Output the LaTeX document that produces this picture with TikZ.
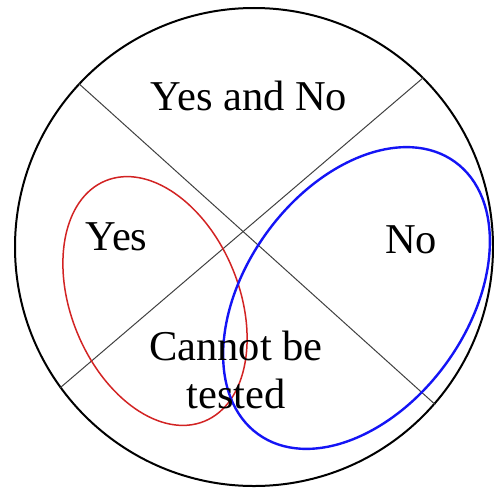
\documentclass[tikz,border=0pt]{standalone}
\usepackage{fontspec}
\setmainfont{Liberation Serif}
\usepackage{tikz}
\usepackage{xcolor}
\usetikzlibrary{positioning,shapes.geometric}
\definecolor{yesred}{RGB}{210,35,35}
\definecolor{noblue}{RGB}{20,20,245}

\begin{document}
\begin{tikzpicture}[x=1pt,y=-1pt,every node/.style={font=\fontsize{42.5}{48}\selectfont},
  loop/.style={ellipse,draw,inner sep=0pt}]
\useasboundingbox (0,0) rectangle (494,487);
\node[circle,draw,line width=2pt,inner sep=0pt,minimum size=478pt] (disc) at (254,247) {};

\draw[black!75,line width=1pt] (disc.137) -- (disc.-41);
\draw[black!75,line width=1pt] (disc.45) -- (disc.216);

\node[loop,draw=yesred,line width=1.5pt,minimum width=260pt,minimum height=168pt,rotate=-67.6] (yesloop) at (155,301) {};
\node[loop,draw=noblue,line width=2.4pt,minimum width=336pt,minimum height=222pt,rotate=54.1] (noloop) at (356.5,298) {};

\node[anchor=base] (both) at (249,110) {Yes and No};
\node[anchor=base] (yes) at (116.5,250) {Yes};
\node[anchor=base] (no) at (411,253) {No};
\node[align=center] (untested) at (236,370) {Cannot be\\tested};
\end{tikzpicture}
\end{document}
